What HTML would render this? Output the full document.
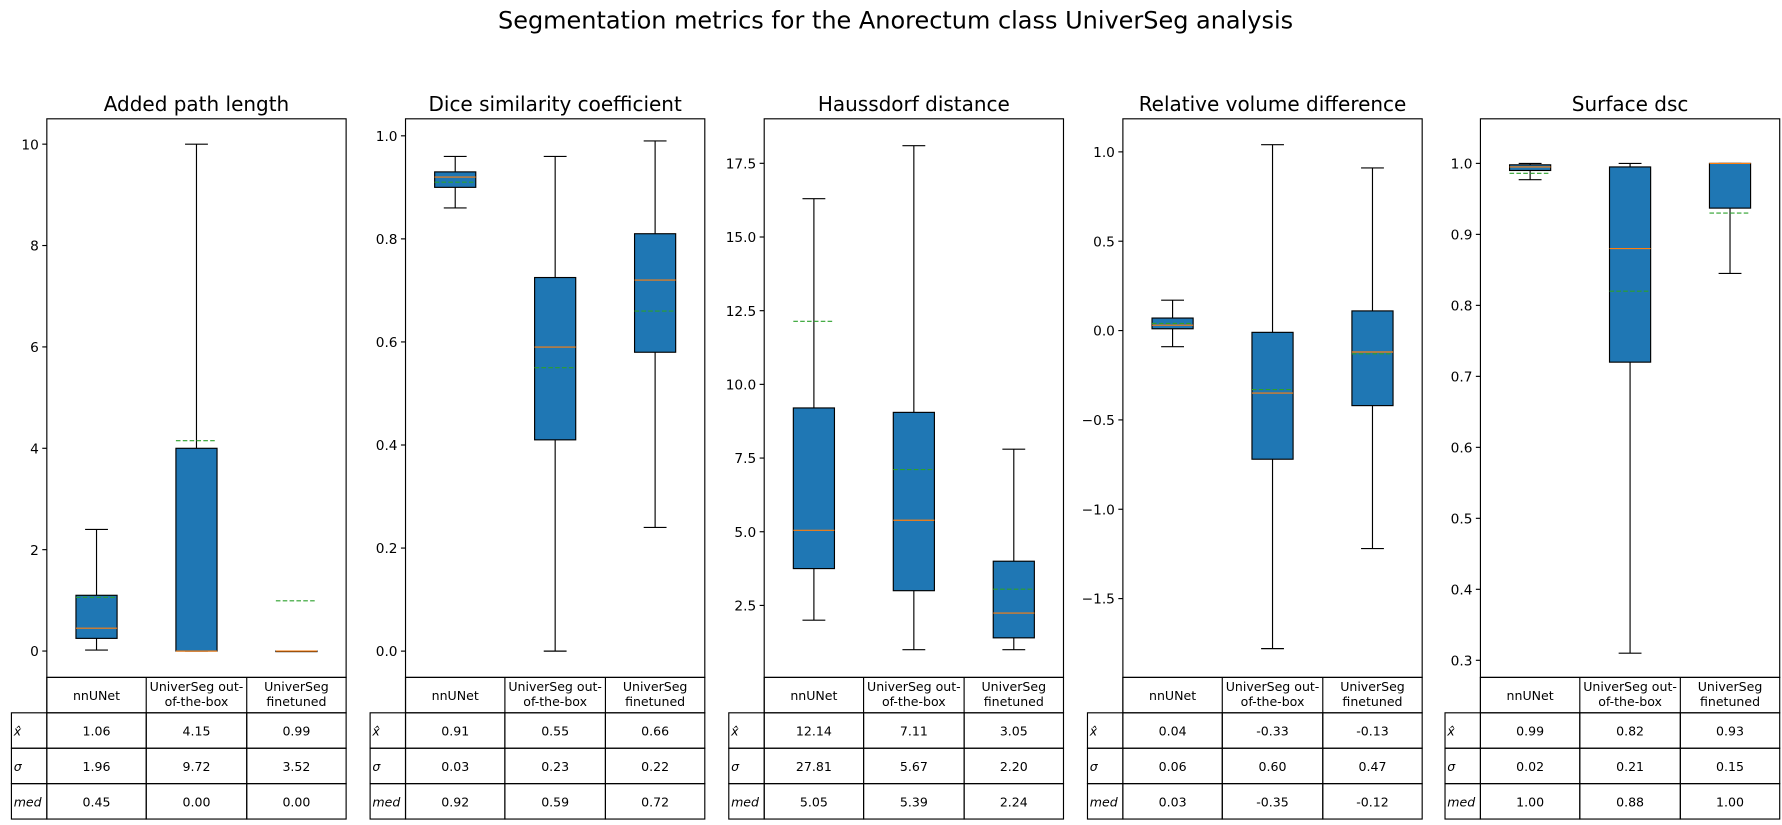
<!DOCTYPE html>
<html><head><meta charset="utf-8"><style>
body{margin:0;background:#fff;}
svg{display:block;font-family:"DejaVu Sans","Liberation Sans",sans-serif;}
</style></head><body>
<svg id="chart" width="1782" height="825" viewBox="0 0 1560 722.2" xmlns="http://www.w3.org/2000/svg">
<text x="784" y="25" font-size="21" text-anchor="middle">Segmentation metrics for the Anorectum class UniverSeg analysis</text>
</svg>
<script>
const titles=["Added path length","Dice similarity coefficient","Haussdorf distance","Relative volume difference","Surface dsc"];
const categories=["nnUNet","UniverSeg out-of-the-box","UniverSeg finetuned"];
const whiskerLo=[[0.02,0,0],[0.86,0.0,0.24],[2.0,1.0,1.0],[-0.09,-1.78,-1.22],[0.977,0.31,0.845]];
const q1=[[0.25,0,0],[0.90,0.41,0.58],[3.75,3.0,1.4],[0.01,-0.72,-0.42],[0.99,0.72,0.937]];
const medians=[[0.45,0,0],[0.92,0.59,0.72],[5.05,5.39,2.24],[0.03,-0.35,-0.12],[0.995,0.88,1.0]];
const q3=[[1.1,4.0,0],[0.93,0.725,0.81],[9.2,9.05,4.0],[0.07,-0.01,0.11],[0.998,0.995,1.0]];
const whiskerHi=[[2.4,10.0,0],[0.96,0.96,0.99],[16.3,18.1,7.8],[0.17,1.04,0.91],[1.0,1.0,1.0]];
const means=[[1.06,4.15,0.99],[0.91,0.55,0.66],[12.14,7.11,3.05],[0.04,-0.33,-0.13],[0.986,0.82,0.93]];
const tableMean=[["1.06","4.15","0.99"],["0.91","0.55","0.66"],["12.14","7.11","3.05"],["0.04","-0.33","-0.13"],["0.99","0.82","0.93"]];
const tableStd=[["1.96","9.72","3.52"],["0.03","0.23","0.22"],["27.81","5.67","2.20"],["0.06","0.60","0.47"],["0.02","0.21","0.15"]];
const tableMed=[["0.45","0.00","0.00"],["0.92","0.59","0.72"],["5.05","5.39","2.24"],["0.03","-0.35","-0.12"],["1.00","0.88","1.00"]];
const yTicks=[[0,2,4,6,8,10],[0,0.2,0.4,0.6,0.8,1.0],[2.5,5,7.5,10,12.5,15,17.5],[-1.5,-1,-0.5,0,0.5,1.0],[0.3,0.4,0.5,0.6,0.7,0.8,0.9,1.0]];
const tickLabels=[["0","2","4","6","8","10"],["0.0","0.2","0.4","0.6","0.8","1.0"],["2.5","5.0","7.5","10.0","12.5","15.0","17.5"],["\u22121.5","\u22121.0","\u22120.5","0.0","0.5","1.0"],["0.3","0.4","0.5","0.6","0.7","0.8","0.9","1.0"]];
const yDomains=[[-0.52,10.5],[-0.051,1.033],[0.058,19.01],[-1.941,1.185],[0.2759,1.0628]];

const svg=document.getElementById('chart');
const NS="http://www.w3.org/2000/svg";
function mk(tag,attrs,parent){const e=document.createElementNS(NS,tag);for(const k in attrs)e.setAttribute(k,attrs[k]);(parent||svg).appendChild(e);return e;}
const lefts=[41,355,669,983,1296];
const W=262,plotTop=104,bot=593;
const colX=[0,87,175,262];
const rowY=[593,624,655,686,717];
for(let p=0;p<5;p++){
  const L=lefts[p];
  const g=mk('g',{});
  
  
  const d0=yDomains[p][0],d1=yDomains[p][1];
  const y=v=>bot-(v-d0)/(d1-d0)*(bot-plotTop);
  const t=mk('text',{x:L+W/2,y:97,'font-size':17.5,'text-anchor':'middle'},g);
  t.textContent=titles[p];
  
  
  yTicks[p].forEach((v,i)=>{
    const yy=y(v);
    mk('line',{x1:L-4,x2:L,y1:yy,y2:yy,stroke:'#000','stroke-width':1},g);
    const tl=mk('text',{x:L-7,y:yy+4.5,'font-size':12,'text-anchor':'end'},g);
    tl.textContent=tickLabels[p][i];
    
    
  });
  for(let c=0;c<3;c++){
    const cx=L+(colX[c]+colX[c+1])/2;
    const bw=36;
    const bg=mk('g',{},g);
    
    
    const lo=y(whiskerLo[p][c]),a=y(q1[p][c]),m=y(medians[p][c]),b=y(q3[p][c]),hi=y(whiskerHi[p][c]),mn=y(means[p][c]);
    mk('line',{x1:cx,x2:cx,y1:lo,y2:a,stroke:'#000'},bg);
    mk('line',{x1:cx,x2:cx,y1:b,y2:hi,stroke:'#000'},bg);
    mk('line',{x1:cx-10,x2:cx+10,y1:lo,y2:lo,stroke:'#000'},bg);
    mk('line',{x1:cx-10,x2:cx+10,y1:hi,y2:hi,stroke:'#000'},bg);
    mk('rect',{x:cx-bw/2,y:b,width:bw,height:Math.max(a-b,0.5),fill:'#1f77b4',stroke:'#000','stroke-width':1},bg);
    mk('line',{x1:cx-bw/2,x2:cx+bw/2,y1:m,y2:m,stroke:'#ff7f0e','stroke-width':1},bg);
    mk('line',{x1:cx-bw/2,x2:cx+bw/2,y1:mn,y2:mn,stroke:'#2ca02c','stroke-width':1,'stroke-dasharray':'4,2'},bg);
  }
  mk('rect',{x:L,y:plotTop,width:W,height:bot-plotTop,fill:'none',stroke:'#000','stroke-width':1},g);
  const tg=mk('g',{},g);
  
  
  mk('rect',{x:L,y:rowY[0],width:W,height:rowY[1]-rowY[0],fill:'none',stroke:'#000'},tg);
  for(let r=1;r<4;r++){
    mk('rect',{x:L-31,y:rowY[r],width:31,height:31,fill:'none',stroke:'#000'},tg);
    for(let c=0;c<3;c++) mk('rect',{x:L+colX[c],y:rowY[r],width:colX[c+1]-colX[c],height:31,fill:'none',stroke:'#000'},tg);
  }
  for(let c=0;c<3;c++){
    mk('line',{x1:L+colX[c],x2:L+colX[c],y1:rowY[0],y2:rowY[1],stroke:'#000'},tg);
    const cx=L+(colX[c]+colX[c+1])/2;
    const lines=c===0?["nnUNet"]:c===1?["UniverSeg out-","of-the-box"]:["UniverSeg","finetuned"];
    lines.forEach((s,i)=>{
      const tt=mk('text',{x:cx,y:lines.length===1?613:rowY[0]+12+i*13,'font-size':11,'text-anchor':'middle'},tg);
      tt.textContent=s;
      
      
    });
    [tableMean,tableStd,tableMed].forEach((arr,r)=>{
      const tt=mk('text',{x:cx,y:rowY[r+1]+20,'font-size':11,'text-anchor':'middle'},tg);
      tt.textContent=arr[p][c];
      
      
    });
  }
  ["x\u0302","\u03c3","med"].forEach((s,r)=>{
    const tt=mk('text',{x:L-29,y:rowY[r+1]+20,'font-size':11,'font-style':'italic'},tg);
    tt.textContent=s;
    
    
  });
}
</script>
</body></html>
